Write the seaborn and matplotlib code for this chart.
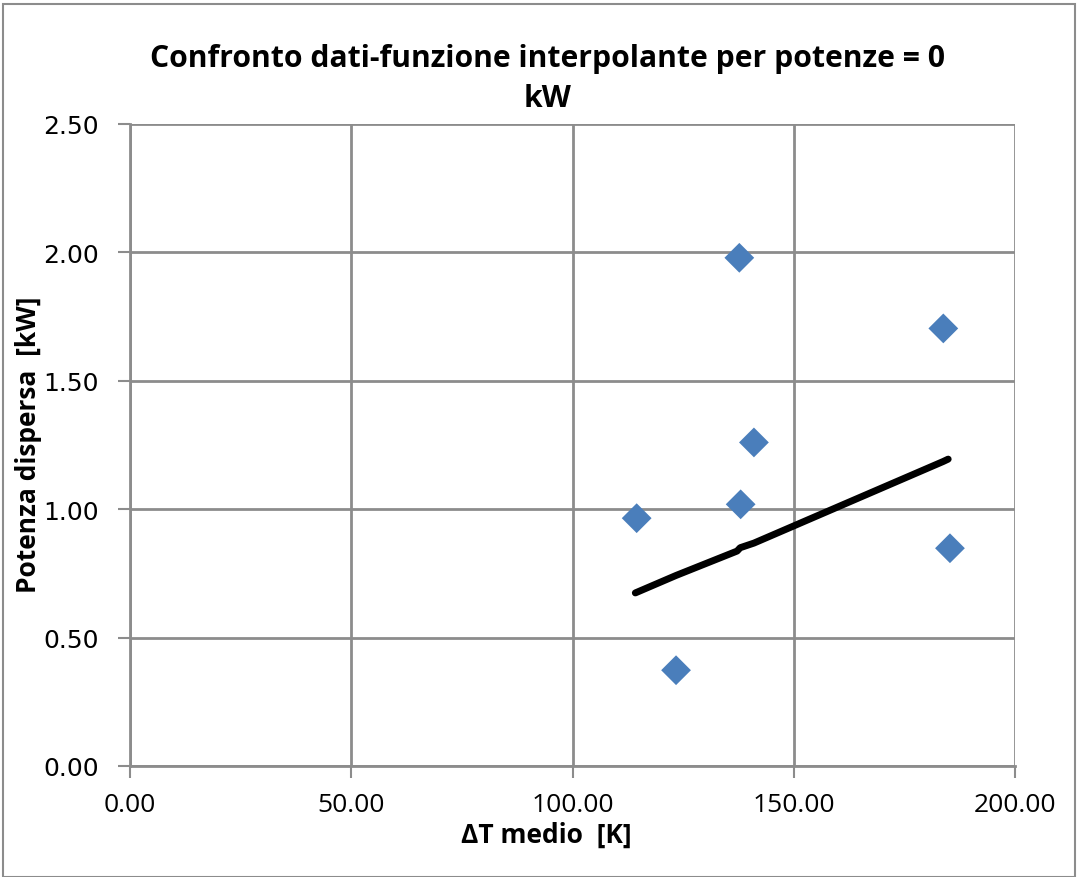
import matplotlib
matplotlib.use("Agg")
import matplotlib.pyplot as plt
import seaborn as sns
import pandas as pd
from matplotlib.patches import Rectangle

# Data
dt_data = [114.5, 123.4, 137.7, 138.0, 141.0, 183.8, 185.3]
p_data = [0.965, 0.373, 1.979, 1.019, 1.260, 1.704, 0.848]

dt_fit = [114.2, 123.4, 137.2, 137.9, 141.0, 183.8, 184.9]
p_fit = [0.674, 0.742, 0.837, 0.850, 0.868, 1.186, 1.195]

x_ticks = [0, 50, 100, 150, 200]
y_ticks = [0.0, 0.5, 1.0, 1.5, 2.0, 2.5]

title = "Confronto dati-funzione interpolante per potenze = 0\nkW"
xlabel = "ΔT medio  [K]"
ylabel = "Potenza dispersa  [kW]"

sns.set_theme(style="white")
narrow = ["Open Sans", "DejaVu Sans"]
plt.rcParams['font.family'] = ["DejaVu Sans"]
plt.rcParams['text.color'] = "black"
plt.rcParams['axes.labelcolor'] = "black"
plt.rcParams['xtick.labelcolor'] = "black"
plt.rcParams['ytick.labelcolor'] = "black"

W, H = 1078, 878
fig = plt.figure(figsize=(W / 100, H / 100), dpi=100)
fig.patch.set_facecolor("white")
fig.patches.append(Rectangle((0.003, 0.0), 0.994, 0.994, transform=fig.transFigure,
                             fill=False, edgecolor="#8c8c8c", linewidth=1.5))

ax = fig.add_axes([130 / W, 1 - 767 / H, 885 / W, 642 / H])

df_pts = pd.DataFrame({"x": dt_data, "y": p_data})
df_fit = pd.DataFrame({"x": dt_fit, "y": p_fit})

sns.lineplot(data=df_fit, x="x", y="y", sort=False, color="black", linewidth=5,
             ax=ax, zorder=3, solid_capstyle="round")
sns.scatterplot(data=df_pts, x="x", y="y", marker="D", color="#4a7ebb", s=230,
                edgecolor="none", ax=ax, zorder=4)

ax.set_xlim(0, 200)
ax.set_ylim(0, 2.5)
ax.set_xticks(x_ticks)
ax.set_yticks(y_ticks)
ax.set_xticklabels([f"{v:.2f}" for v in x_ticks], fontfamily=narrow, fontsize=19,
                   color="black")
ax.set_yticklabels([f"{v:.2f}" for v in y_ticks], fontfamily=["DejaVu Sans"], fontsize=18,
                   color="black")

ax.grid(True, color="#8c8c8c", linewidth=2)
for side in ["top", "right"]:
    ax.spines[side].set_visible(False)
for side in ["left", "bottom"]:
    ax.spines[side].set_color("#8c8c8c")
    ax.spines[side].set_linewidth(2)
ax.tick_params(axis="both", which="major", length=8.5, width=1.5, color="#8c8c8c",
               direction="out", bottom=True, left=True, labelcolor="black")
ax.tick_params(axis="x", pad=10)
ax.tick_params(axis="y", pad=14)

ax.set_xlabel(xlabel, fontfamily=narrow, fontweight="bold", fontsize=19, color="black")
ax.xaxis.set_label_coords((546 - 130) / 885, -0.085)
ax.set_ylabel(ylabel, fontfamily=narrow, fontweight="bold", fontsize=19, color="black")
ax.yaxis.set_label_coords((42 - 130) / 885, 0.5016)

fig.text(548 / W, 1 - 79 / H, title, fontfamily=narrow, fontweight="bold", fontsize=21.7,
         ha="center", va="center", linespacing=1.45, color="black")

fig.savefig("out.png", dpi=100, facecolor="white")
